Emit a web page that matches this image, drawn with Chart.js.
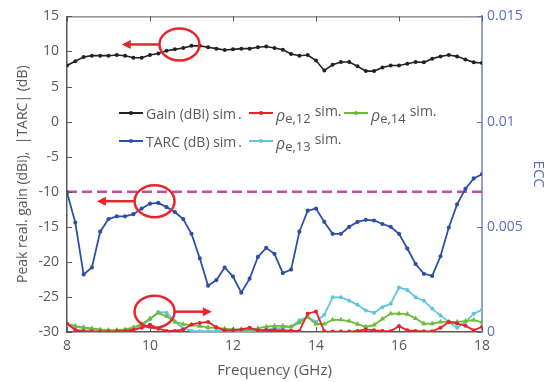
<!DOCTYPE html>
<html>
<head>
<meta charset="utf-8">
<script src="https://cdn.jsdelivr.net/npm/chart.js@4/dist/chart.umd.min.js"></script>
<style>
  body { margin: 0; background: #fff; }
  #wrap { position: relative; width: 558px; height: 382px; }
  .item { position: absolute; display: flex; align-items: center; white-space: nowrap;
          font: 14px "Open Sans", sans-serif; color: #595959; height: 20px; }
  .sw { position: relative; width: 24px; height: 2px; margin-right: 3px; }
  .sw i { position: absolute; left: 10px; top: -1px; width: 4px; height: 4px; border-radius: 50%; background: inherit; }
  .rho { font-style: italic; font-size: 16px; position: relative; top: 2px; }
  .sub { font-size: 13px; position: relative; top: 5px; }
  .sup { position: relative; top: -3px; margin-left: 4px; }
</style>
</head>
<body>
<div id="wrap">
  <canvas id="chart" width="558" height="382"></canvas>
  <div class="item" style="left:119px;top:103px"><span class="sw" style="background:#222"><i></i></span>Gain (dBi) sim<span style="margin-left:2px">.</span></div>
  <div class="item" style="left:249px;top:103px"><span class="sw" style="background:#e8212a"><i></i></span><span class="rho">ρ</span><span class="sub">e,12</span><span class="sup">sim.</span></div>
  <div class="item" style="left:344px;top:103px"><span class="sw" style="background:#6cbb3c"><i></i></span><span class="rho">ρ</span><span class="sub">e,14</span><span class="sup">sim.</span></div>
  <div class="item" style="left:119px;top:131px"><span class="sw" style="background:#2f4fa6"><i></i></span>TARC (dB) sim<span style="margin-left:2px">.</span></div>
  <div class="item" style="left:249px;top:131px"><span class="sw" style="background:#5fc6dc"><i></i></span><span class="rho">ρ</span><span class="sub">e,13</span><span class="sup">sim.</span></div>
</div>
<script>
const freq = [8.0, 8.2, 8.4, 8.6, 8.8, 9.0, 9.2, 9.4, 9.6, 9.8,
  10.0, 10.2, 10.4, 10.6, 10.8, 11.0, 11.2, 11.4, 11.6, 11.8,
  12.0, 12.2, 12.4, 12.6, 12.8, 13.0, 13.2, 13.4, 13.6, 13.8,
  14.0, 14.2, 14.4, 14.6, 14.8, 15.0, 15.2, 15.4, 15.6, 15.8,
  16.0, 16.2, 16.4, 16.6, 16.8, 17.0, 17.2, 17.4, 17.6, 17.8, 18.0];

const gain = [8.0, 8.6, 9.2, 9.4, 9.4, 9.4, 9.5, 9.4, 9.1, 9.1,
  9.5, 9.7, 10.1, 10.3, 10.5, 10.8, 10.8, 10.6, 10.4, 10.2,
  10.3, 10.4, 10.4, 10.6, 10.7, 10.5, 10.25, 9.65, 9.4, 9.5,
  8.7, 7.3, 8.1, 8.5, 8.5, 7.9, 7.2, 7.2, 7.7, 8.0,
  8.0, 8.25, 8.5, 8.45, 8.95, 9.3, 9.5, 9.3, 8.85, 8.45, 8.35];

const tarc = [-10.1, -14.4, -21.8, -20.8, -15.7, -13.9, -13.5, -13.5, -13.2, -12.4,
  -11.7, -11.6, -12.2, -12.9, -13.9, -16.0, -19.5, -23.4, -22.6, -20.8,
  -22.1, -24.4, -22.4, -19.3, -18.0, -18.85, -21.6, -21.1, -15.7, -12.7,
  -12.4, -14.3, -16.0, -16.0, -15.0, -14.3, -14.0, -14.1, -14.6, -15.0,
  -16.0, -18.1, -20.3, -21.7, -22.0, -19.2, -15.1, -11.8, -9.6, -8.1, -7.5];

// ECC values in units of 1e-3
const ecc12 = [0.40, 0.10, 0.05, 0.03, 0.02, 0.02, 0.03, 0.05, 0.10, 0.20,
  0.35, 0.16, 0.05, 0.05, 0.12, 0.36, 0.43, 0.48, 0.22, 0.08,
  0.08, 0.12, 0.20, 0.08, 0.10, 0.09, 0.08, 0.06, 0.05, 0.87,
  0.98, 0.03, 0.02, 0.02, 0.02, 0.05, 0.12, 0.08, 0.05, 0.03,
  0.28, 0.08, 0.05, 0.03, 0.03, 0.20, 0.48, 0.40, 0.30, 0.08, 0.25];

const ecc14 = [0.40, 0.28, 0.22, 0.17, 0.12, 0.09, 0.09, 0.12, 0.22, 0.37,
  0.64, 0.90, 0.75, 0.48, 0.37, 0.33, 0.28, 0.22, 0.19, 0.16,
  0.12, 0.12, 0.12, 0.17, 0.25, 0.29, 0.29, 0.25, 0.44, 0.71,
  0.38, 0.38, 0.58, 0.58, 0.52, 0.37, 0.25, 0.33, 0.62, 0.87,
  0.87, 0.85, 0.64, 0.40, 0.40, 0.48, 0.48, 0.48, 0.52, 0.57, 0.46];

const ecc13 = [0.33, 0.25, 0.18, 0.12, 0.08, 0.05, 0.05, 0.06, 0.12, 0.30,
  0.60, 0.95, 0.92, 0.50, 0.17, 0.05, 0.04, 0.04, 0.04, 0.05,
  0.05, 0.05, 0.06, 0.06, 0.10, 0.17, 0.20, 0.25, 0.56, 0.71,
  0.48, 0.82, 1.65, 1.65, 1.49, 1.29, 1.02, 0.92, 1.18, 1.34,
  2.11, 2.00, 1.65, 1.49, 1.10, 0.79, 0.48, 0.20, 0.48, 0.87, 1.06];

const refFreq = [8, 18];
const refLevel = [-10, -10];

const leftTicks = [-30, -25, -20, -15, -10, -5, 0, 5, 10, 15];
const bottomTicks = [8, 10, 12, 14, 16, 18];
const rightTicks = [0, 5, 10, 15];
const rightTickLabels = ['0', '0.005', '0.01', '0.015'];

const txt = '#595959';
const blueAxis = '#5a70b8';
const red = '#e8252b';

function pts(ys, xs) {
  return (xs || freq).map((f, i) => ({ x: f, y: ys[i] }));
}

// inward ticks, top border, annotations (circles + arrows)
const decor = {
  id: 'decor',
  afterDatasetsDraw(chart) {
    const { ctx, chartArea: a, scales } = chart;
    const x = scales.x, y = scales.y, y2 = scales.y2;
    ctx.save();
    ctx.lineWidth = 1;
    ctx.strokeStyle = txt;
    ctx.beginPath();
    ctx.moveTo(a.left, a.top + 0.5);
    ctx.lineTo(a.right, a.top + 0.5);
    leftTicks.forEach(v => {
      const py = Math.round(y.getPixelForValue(v)) + 0.5;
      ctx.moveTo(a.left, py); ctx.lineTo(a.left + 5, py);
    });
    bottomTicks.forEach(v => {
      const px = Math.round(x.getPixelForValue(v)) + 0.5;
      ctx.moveTo(px, a.bottom); ctx.lineTo(px, a.bottom - 5);
      ctx.moveTo(px, a.top); ctx.lineTo(px, a.top + 5);
    });
    ctx.stroke();
    ctx.strokeStyle = blueAxis;
    ctx.beginPath();
    rightTicks.forEach(v => {
      const py = Math.round(y2.getPixelForValue(v)) + 0.5;
      ctx.moveTo(a.right, py); ctx.lineTo(a.right - 5, py);
    });
    ctx.stroke();

    ctx.strokeStyle = red;
    ctx.fillStyle = red;
    ctx.lineWidth = 2.5;
    const ellipse = (gx, gv) => {
      const cx = x.getPixelForValue(gx), cy = y.getPixelForValue(gv);
      ctx.beginPath();
      ctx.ellipse(cx, cy, 20, 16, 0, 0, Math.PI * 2);
      ctx.stroke();
      return { cx, cy };
    };
    const arrow = (x0, x1, py) => {
      const dir = Math.sign(x1 - x0);
      ctx.beginPath();
      ctx.moveTo(x0, py); ctx.lineTo(x1 - dir * 7, py);
      ctx.stroke();
      ctx.beginPath();
      ctx.moveTo(x1, py);
      ctx.lineTo(x1 - dir * 9, py - 4.5);
      ctx.lineTo(x1 - dir * 9, py + 4.5);
      ctx.closePath();
      ctx.fill();
    };
    let e = ellipse(10.71, 11.0);
    arrow(e.cx - 20, x.getPixelForValue(9.32), e.cy);
    e = ellipse(10.11, -11.35);
    arrow(e.cx - 20, x.getPixelForValue(8.72), e.cy);
    e = ellipse(10.11, -27.1);
    arrow(e.cx + 20, x.getPixelForValue(11.49), e.cy);
    ctx.restore();
  }
};

const font = { family: '"Open Sans", sans-serif', size: 14 };

new Chart(document.getElementById('chart'), {
  type: 'line',
  data: {
    datasets: [
      { data: pts(gain), yAxisID: 'y', borderColor: '#222', backgroundColor: '#222',
        borderWidth: 1.6, pointRadius: 1.2, order: 1 },
      { data: pts(tarc), yAxisID: 'y', borderColor: '#2f4fa6', backgroundColor: '#2f4fa6',
        borderWidth: 1.8, pointRadius: 1.2, order: 2 },
      { data: pts(refLevel, refFreq), yAxisID: 'y', borderColor: '#c24fa4', borderWidth: 2.5,
        borderDash: [10, 5], pointRadius: 0, order: 3 },
      { data: pts(ecc13), yAxisID: 'y2', borderColor: '#5fc6dc', backgroundColor: '#5fc6dc',
        borderWidth: 1.8, pointRadius: 1.1, order: 6 },
      { data: pts(ecc14), yAxisID: 'y2', borderColor: '#6cbb3c', backgroundColor: '#6cbb3c',
        borderWidth: 1.8, pointRadius: 1.3, pointStyle: 'triangle', order: 5 },
      { data: pts(ecc12), yAxisID: 'y2', borderColor: '#e8212a', backgroundColor: '#e8212a',
        borderWidth: 1.8, pointRadius: 1.1, order: 4 }
    ]
  },
  options: {
    responsive: false,
    animation: false,
    devicePixelRatio: 1,
    layout: { padding: { top: 10, left: 0, right: 0, bottom: 0 } },
    plugins: { legend: { display: false }, tooltip: { enabled: false } },
    elements: { line: { tension: 0 } },
    scales: {
      x: {
        type: 'linear', min: 8, max: 18,
        afterBuildTicks: s => { s.ticks = bottomTicks.map(v => ({ value: v })); },
        afterFit: s => { s.height = 50; },
        grid: { display: false, drawTicks: false },
        border: { display: true, color: txt, width: 1.5 },
        ticks: { color: txt, font, padding: 6, maxRotation: 0 },
        title: { display: true, text: 'Frequency (GHz)', color: txt, font: { ...font, size: 15 }, padding: { top: 0, bottom: 2 } }
      },
      y: {
        position: 'left', min: -30, max: 15,
        afterBuildTicks: s => { s.ticks = leftTicks.map(v => ({ value: v })); },
        afterFit: s => { s.width = 67; },
        grid: { display: false, drawTicks: false },
        border: { display: true, color: txt, width: 1.5 },
        ticks: { color: txt, font, padding: 8 },
        title: { display: true, text: 'Peak real. gain (dBi),  |TARC| (dB)', color: txt, font: { ...font, size: 14 }, padding: { top: 15, bottom: 0 } }
      },
      y2: {
        position: 'right', min: 0, max: 15,
        afterBuildTicks: s => { s.ticks = rightTicks.map(v => ({ value: v })); },
        afterFit: s => { s.width = 76; },
        grid: { display: false, drawTicks: false },
        border: { display: true, color: '#8fa1d2', width: 2 },
        ticks: { color: blueAxis, font, padding: 5,
                 callback: v => rightTickLabels[rightTicks.indexOf(v)] },
        title: { display: true, text: 'ECC', color: blueAxis, font: { ...font, size: 15 }, padding: { top: 11, bottom: 0 } }
      }
    }
  },
  plugins: [decor]
});
</script>
</body>
</html>
